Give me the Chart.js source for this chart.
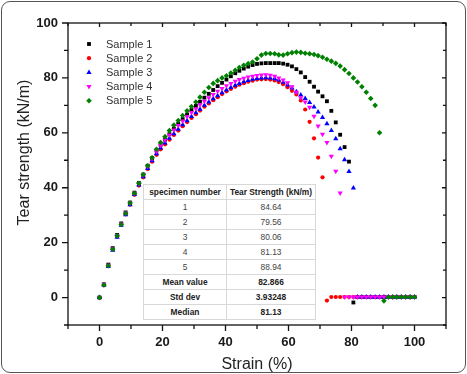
<!DOCTYPE html>
<html>
<head>
<meta charset="utf-8">
<script src="https://cdn.jsdelivr.net/npm/chart.js@4/dist/chart.umd.min.js"></script>
<style>
html,body{margin:0;padding:0;background:#fff;}
#wrap{position:relative;width:467px;height:374px;overflow:hidden;}
#c{position:absolute;left:0;top:0;}
#frame{position:absolute;left:1px;top:1px;width:465px;height:372px;box-sizing:border-box;border:1px solid #555;border-radius:9px;pointer-events:none;}
#stats{position:absolute;left:143px;top:184px;width:172px;height:133px;border-collapse:collapse;table-layout:fixed;background:#fff;
  font-family:"Liberation Sans",Arial,sans-serif;font-size:8.4px;color:#444;border:1px solid #aaa;}
#stats td,#stats th{border:1px solid #d8d8d8;text-align:center;padding:0;height:14px;line-height:10px;white-space:nowrap;overflow:hidden;}
#stats th{font-weight:bold;color:#222;}
#stats td.b{font-weight:bold;color:#222;}
</style>
</head>
<body>
<div id="wrap">
<canvas id="c" width="467" height="374"></canvas>
<table id="stats"><colgroup><col style="width:83px"><col style="width:89px"></colgroup><thead></thead><tbody></tbody></table>
<div id="frame"></div>
</div>
<script>
// ---- data ----
const strain = [0,1.4,2.8,4.2,5.6,6.9,8.3,9.7,11.1,12.5,13.9,15.3,16.7,18.1,19.4,20.8,22.2,23.6,25,26.4,27.8,29.2,30.6,31.9,33.3,34.7,36.1,37.5,38.9,40.3,41.7,43.1,44.4,45.8,47.2,48.6,50,51.4,52.8,54.2,55.6,56.9,58.3,59.7,61.1,62.5,63.9,65.3,66.7,68.1,69.4,70.8,72.2,73.6,75,76.4,77.8,79.2,80.6,81.9,83.3,84.7,86.1,87.5,88.9,90.3,91.7,93.1,94.4,95.8,97.2,98.6,100];

const sample1 = [0,4.8,12,18,22.8,27,31,34.6,38.2,41.7,44.8,48,50.8,53.5,55.6,57.5,59.5,61.5,63.3,65,66.7,68.3,69.8,71.3,72.8,74.2,75.6,77,78.2,79.4,80.6,81.7,82.6,83.4,84.1,84.7,85.1,85.3,85.4,85.4,85.4,85.4,85.2,84.8,84.2,83.2,82,80.3,78.6,76.8,75,73.3,71.5,68,63.8,59.3,54.8,49.5,-1.8,0.2,0.2,0.2,0.2,0.2,0.2,0.2,0.2,0.2,0.2,0.2,0.2,0.2,0.2];

const sample2 = [0,4.5,11.5,17.5,22.3,26.5,30.3,33.8,37.4,40.8,43.8,46.8,49.5,52,54,55.8,57.5,59.2,60.8,62.4,63.9,65.4,66.8,68.1,69.5,70.7,71.9,73,74.1,75.1,76,76.8,77.5,78.1,78.6,79,79.4,79.5,79.56,79.4,79.1,78.5,77.7,76.6,75.3,74,71.8,68.5,64,58,51,43.8,-1.1,0.2,0.2,0.2,0.2,0.2,0.2,0.2,0.2,0.2,0.2,0.2,0.2,0.2,0.2,0.2,0.2,0.2,0.2,0.2,0.2];

const sample3 = [0,4.6,11.3,17.2,22,26.3,30.2,33.8,37.5,41,44,47,49.8,52.4,54.5,56.3,58,59.7,61.3,62.9,64.4,65.9,67.3,68.6,70,71.2,72.4,73.5,74.6,75.6,76.5,77.3,78,78.6,79.1,79.5,79.8,80,80.06,80,79.7,79.2,78.4,77.4,76.3,75,73.8,72.5,71,69.4,67.6,65.6,63.3,60.8,57.8,54.2,50.2,45.9,39.9,0.2,0.2,0.2,0.2,0.2,0.2,0.2,0.2,0.2,0.2,0.2,0.2,0.2,0.2];

const sample4 = [0,4.8,11.8,17.8,22.6,26.8,30.8,34.4,38,41.5,44.7,47.8,50.6,53.2,55.4,57.3,59.2,61,62.7,64.3,65.9,67.4,68.8,70.2,71.5,72.8,74,75.1,76.1,77.1,78,78.8,79.4,79.9,80.3,80.6,80.9,81.1,81.13,81,80.6,80,79.2,78.2,76.8,74.8,72.8,71.2,69.3,66,62.5,59.5,56.5,51.5,46,38.1,0.2,0.2,0.2,0.2,0.2,0.2,0.2,0.2,0.2,0.2,0.2,0.2,0.2,0.2,0.2,0.2,0.2];

const sample5 = [0,4.6,11.6,17.6,22.5,26.6,30.6,34.4,38,41.6,44.8,48,50.9,54,56.5,58.6,60.8,62.8,64.5,66.3,68,69.6,71.2,73,74.8,76.5,78,79,80,80.8,81.8,82.8,83.8,84.6,85.2,85.8,87,88.3,88.9,88.9,88.8,88.4,88.3,88.8,89.2,89.4,89.3,89,88.8,88.5,88.1,87.5,86.8,86.1,85.3,84.3,83,81.6,80,78.5,76.8,74.8,72.5,70,60,-1.2,0.2,0.2,0.2,0.2,0.2,0.2,0.2];

const seriesNames = ['Sample 1','Sample 2','Sample 3','Sample 4','Sample 5'];
const seriesValues = [sample1, sample2, sample3, sample4, sample5];

const specimenNumber = ['1','2','3','4','5','Mean value','Std dev','Median'];
const tearStrengthTable = ['84.64','79.56','80.06','81.13','88.94','82.866','3.93248','81.13'];
const tableHeader = ['specimen number','Tear Strength (kN/m)'];

const xTitle = 'Strain (%)';
const yTitle = 'Tear strength (kN/m)';

// ---- styles ----
const colors = ['#000000','#ff0000','#0000ff','#ff00ff','#008000'];
const shapes = ['rect','circle','triangle','triangle','rectRot'];
const rotations = [0,0,0,180,0];
const radii = [2.7,2.1,3.0,3.0,2.8];

// ---- table ----
(function(){
  const t = document.getElementById('stats');
  const thead = t.querySelector('thead');
  const tr = document.createElement('tr');
  tableHeader.forEach(h=>{const th=document.createElement('th');th.textContent=h;tr.appendChild(th);});
  thead.appendChild(tr);
  const tb = t.querySelector('tbody');
  specimenNumber.forEach((s,i)=>{
    const r=document.createElement('tr');
    const a=document.createElement('td');a.textContent=s;
    const b=document.createElement('td');b.textContent=tearStrengthTable[i];
    if(i>=5){a.className='b';b.className='b';}
    r.appendChild(a);r.appendChild(b);tb.appendChild(r);
  });
})();

Chart.defaults.font.family = '"Liberation Sans", Arial, sans-serif';

const datasets = seriesValues.map((vals,k)=>({
  label: seriesNames[k],
  data: strain.map((s,i)=> vals[i]==null ? null : {x:s, y:vals[i]}).filter(p=>p),
  showLine:false,
  pointStyle: shapes[k],
  rotation: rotations[k],
  pointRadius: radii[k],
  pointBorderWidth: 0,
  backgroundColor: colors[k],
  borderColor: colors[k],
  order: 5-k
}));

function drawMarker(ctx,k,x,y){
  ctx.fillStyle = colors[k]; ctx.strokeStyle = colors[k];
  if (Chart.helpers && Chart.helpers.drawPoint) {
    Chart.helpers.drawPoint(ctx,{pointStyle:shapes[k],rotation:rotations[k],radius:radii[k],borderWidth:0},x,y);
  } else {
    ctx.beginPath(); ctx.arc(x,y,radii[k],0,Math.PI*2); ctx.fill();
  }
}

const framePlugin = {
  id:'frameTicks',
  afterDatasetsDraw(chart){
    const {ctx, chartArea:a, scales} = chart;
    const xs = scales.x, ys = scales.y;
    ctx.save();
    ctx.strokeStyle = '#111';
    ctx.lineWidth = 1.3;
    ctx.strokeRect(a.left, a.top, a.right-a.left, a.bottom-a.top);
    ctx.beginPath();
    xs.ticks.forEach(t=>{
      const px = xs.getPixelForValue(t.value);
      const major = t.value % 20 === 0;
      ctx.moveTo(px, a.bottom); ctx.lineTo(px, a.bottom + (major?6:4));
      ctx.moveTo(px, a.top); ctx.lineTo(px, a.top + (major?4:3));
    });
    ys.ticks.forEach(t=>{
      const py = ys.getPixelForValue(t.value);
      const major = t.value % 20 === 0;
      ctx.moveTo(a.left, py); ctx.lineTo(a.left - (major?6:4), py);
      ctx.moveTo(a.right, py); ctx.lineTo(a.right - (major?4:3), py);
    });
    ctx.stroke();
    // y title
    ctx.fillStyle = '#222';
    ctx.font = '16px "Liberation Sans", Arial, sans-serif';
    ctx.textAlign = 'center';
    ctx.textBaseline = 'middle';
    ctx.translate(25, 152.5);
    ctx.rotate(-Math.PI/2);
    ctx.fillText(yTitle, 0, 0);
    ctx.restore();
    // legend
    ctx.save();
    ctx.font = '11px "Liberation Sans", Arial, sans-serif';
    ctx.textAlign = 'left';
    ctx.textBaseline = 'middle';
    seriesNames.forEach((n,k)=>{
      const lx = a.left + 21, ly = a.top + 21 + k*14.2;
      drawMarker(ctx,k,lx,ly);
      ctx.fillStyle = '#333';
      ctx.fillText(n, lx + 17, ly + 0.5);
    });
    ctx.restore();
  }
};

new Chart(document.getElementById('c'), {
  type:'scatter',
  data:{datasets},
  options:{
    responsive:false,
    animation:false,
    events:[],
    layout:{padding:{left:0,right:21,top:23,bottom:0}},
    plugins:{legend:{display:false},tooltip:{enabled:false}},
    scales:{
      x:{
        type:'linear', min:-10, max:110,
        afterFit(s){ s.height = 49; },
        border:{display:false},
        grid:{display:false, drawTicks:true, tickLength:6},
        ticks:{stepSize:10, padding:4, color:'#1a1a1a', font:{size:13, weight:'bold'},
          maxRotation:0, autoSkip:false,
          callback:v => (v % 20 === 0 && v >= 0 && v <= 100) ? String(v) : ''},
        title:{display:true, text:xTitle, color:'#222', font:{size:16, lineHeight:1.0}, padding:{top:0,bottom:1}}
      },
      y:{
        type:'linear', min:-10, max:100,
        afterFit(s){ s.width = 68; },
        border:{display:false},
        grid:{display:false, drawTicks:true, tickLength:6},
        ticks:{stepSize:10, padding:4, color:'#1a1a1a', font:{size:13, weight:'bold'}, autoSkip:false,
          callback:v => (v % 20 === 0 && v >= 0) ? String(v) : ''}
      }
    }
  },
  plugins:[framePlugin]
});
</script>
</body>
</html>
